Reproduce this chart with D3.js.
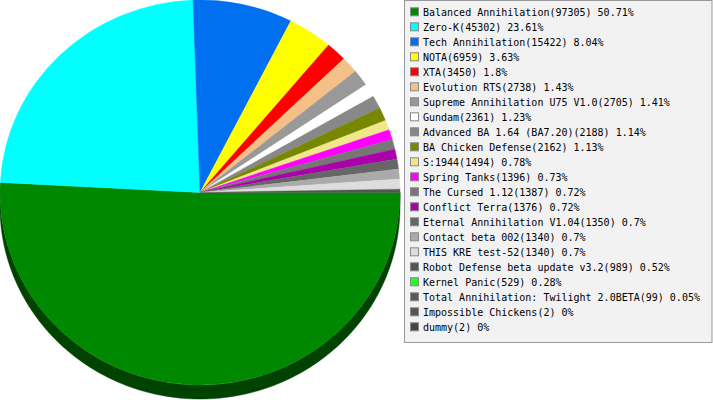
<!DOCTYPE html>
<html><head><meta charset="utf-8">
<script src="https://cdn.jsdelivr.net/npm/d3@7/dist/d3.min.js"></script>
<style>body{margin:0;background:#fff;}svg{display:block;}</style>
</head><body>
<svg id="c" width="713" height="400"></svg>
<script>
const categories = ["Balanced Annihilation","Zero-K","Tech Annihilation","NOTA","XTA","Evolution RTS","Supreme Annihilation U75 V1.0","Gundam","Advanced BA 1.64 (BA7.20)","BA Chicken Defense","S:1944","Spring Tanks","The Cursed 1.12","Conflict Terra","Eternal Annihilation V1.04","Contact beta 002","THIS KRE test-52","Robot Defense beta update v3.2","Kernel Panic","Total Annihilation: Twilight 2.0BETA","Impossible Chickens","dummy"];
const values = [97305,45302,15422,6959,3450,2738,2705,2361,2188,2162,1494,1396,1387,1376,1350,1340,1340,989,529,99,2,2];
const percents = ["50.71","23.61","8.04","3.63","1.8","1.43","1.41","1.23","1.14","1.13","0.78","0.73","0.72","0.72","0.7","0.7","0.7","0.52","0.28","0.05","0","0"];
const colors = ["#008800","#00ffff","#0070f0","#ffff00","#ff0000","#f5c088","#999999","#ffffff","#888888","#778800","#f0e68c","#ff00ff","#777777","#aa00aa","#666666","#aaaaaa","#dddddd","#555555","#22ff22","#595959","#555555","#444444"];

const svg = d3.select("#c");
const cx = 200, cy = 192.5, rx = 200, ry = 192.5, depth = 14;

const data = categories.map((c,i)=>({name:c, value:values[i], pct:percents[i], color:colors[i]}));
const pie = d3.pie().value(d=>d.value).sort(null).startAngle(Math.PI/2).endAngle(Math.PI/2 + 2*Math.PI);
const arcs = pie(data);
// the original renderer works in whole degrees, capped at a full turn
const total = d3.sum(values);
let cum = 0;
arcs.forEach(a=>{
  const deg = Math.round(a.value/total*360);
  const s = cum, e = Math.min(cum + deg, 360);
  cum = e;
  a.startAngle = Math.PI/2 + s*Math.PI/180;
  a.endAngle = Math.PI/2 + e*Math.PI/180;
});

// side walls (front half only)
const sideG = svg.append("g");
arcs.forEach(a=>{
  const t0 = a.startAngle - Math.PI/2, t1 = a.endAngle - Math.PI/2;
  const lo = Math.max(t0, 0), hi = Math.min(t1, Math.PI);
  if (hi <= lo) return;
  const n = Math.max(2, Math.ceil((hi-lo)/0.01));
  const pts = [];
  for (let k=0;k<=n;k++){ const t = lo + (hi-lo)*k/n; pts.push([cx+rx*Math.cos(t), cy+ry*Math.sin(t)]); }
  for (let k=n;k>=0;k--){ const t = lo + (hi-lo)*k/n; pts.push([cx+rx*Math.cos(t), cy+ry*Math.sin(t)+depth]); }
  const col = d3.color(a.data.color).darker(2);
  sideG.append("path").attr("d", d3.line()(pts)+"Z").attr("fill", col).attr("stroke", col).attr("stroke-width",0.5);
});

// top surface
const arc = d3.arc().innerRadius(0).outerRadius(rx);
svg.append("g").attr("transform",`translate(${cx},${cy}) scale(1,${ry/rx})`)
  .selectAll("path").data(arcs.filter(a=>a.endAngle>a.startAngle)).join("path")
  .attr("d", arc).attr("fill", d=>d.data.color)
  .attr("stroke", d=>d.data.color).attr("stroke-width", 0.4);

// legend
const lg = svg.append("g");
const lx = 404.5, ly = 0.5;
lg.append("rect").attr("x", lx).attr("y", ly).attr("width", 712-lx).attr("height", 342)
  .attr("fill", "#f2f2f2").attr("stroke", "#999999");
const rowH = 15;
const rows = lg.selectAll("g.row").data(data).join("g").attr("class","row")
  .attr("transform",(d,i)=>`translate(0,${12.3 + i*rowH})`);
rows.append("rect").attr("x", 410.5).attr("y", -4.5).attr("width", 8).attr("height", 8)
  .attr("fill", d=>d.color).attr("stroke", "#888888");
rows.append("text").attr("x", 423).attr("y", 3.6)
  .attr("font-family","DejaVu Sans Mono, monospace").attr("font-size", 10).attr("fill","#000")
  .text(d=>`${d.name}(${d.value}) ${d.pct}%`);
</script>
</body></html>
